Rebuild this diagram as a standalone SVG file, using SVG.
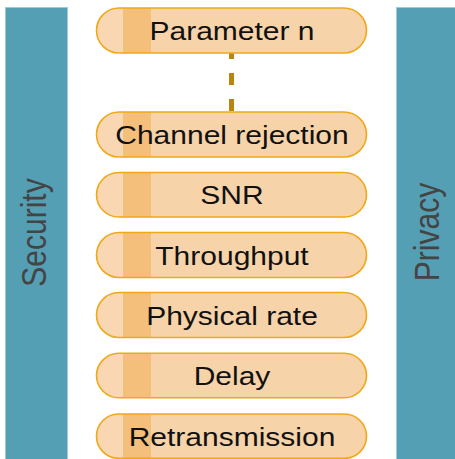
<svg xmlns="http://www.w3.org/2000/svg" width="455" height="459" viewBox="0 0 455 459">
  <defs>
    <linearGradient id="pillFill" gradientUnits="userSpaceOnUse" x1="96" y1="0" x2="367" y2="0">
      <stop offset="0" stop-color="#f8d7b2"/>
      <stop offset="0.0996" stop-color="#f8d7b2"/>
      <stop offset="0.0996" stop-color="#f3bf7b"/>
      <stop offset="0.203" stop-color="#f3bf7b"/>
      <stop offset="0.203" stop-color="#f7d3a9"/>
      <stop offset="1" stop-color="#f7d3a9"/>
    </linearGradient>
  </defs>
  <style>
    .bar { fill: #549fb4; stroke: #9ccbd8; stroke-width: 1; }
    .barText { font-family: "Liberation Sans", Arial, sans-serif; font-size: 30px; fill: #444444; text-anchor: middle; }
    .pill { fill: url(#pillFill); stroke: #f0a818; stroke-width: 1.6; }
    .label { font-family: "Liberation Sans", Arial, sans-serif; font-size: 25px; fill: #111111; text-anchor: middle; }
    .dash { stroke: #b8860b; stroke-width: 5; stroke-dasharray: 12 14; fill: none; }
  </style>
  <rect width="455" height="459" fill="#ffffff"/>

  <g id="security">
    <rect class="bar" x="5.5" y="7.5" width="62" height="452"/>
    <text class="barText" transform="translate(46,232.5) scale(1.17,1) rotate(-90)">Security</text>
  </g>
  <g id="privacy">
    <rect class="bar" x="396.5" y="7.5" width="59" height="452"/>
    <text class="barText" transform="translate(439,232) scale(1.17,1) rotate(-90)">Privacy</text>
  </g>

  <g id="connectors">
    <line class="dash" x1="231.5" y1="47" x2="231.5" y2="112"/>
  </g>

  <g id="param-n">
    <rect class="pill" x="96.5" y="8" width="270" height="45" rx="22.5"/>
    <text class="label" transform="translate(232,40) scale(1.2,1)">Parameter n</text>
  </g>
  <g id="channel-rejection">
    <rect class="pill" x="96.5" y="112" width="270" height="45" rx="22.5"/>
    <text class="label" transform="translate(232,144) scale(1.2,1)">Channel rejection</text>
  </g>
  <g id="snr">
    <rect class="pill" x="96.5" y="172.5" width="270" height="44.5" rx="22.25"/>
    <text class="label" transform="translate(232,204.3) scale(1.2,1)">SNR</text>
  </g>
  <g id="throughput">
    <rect class="pill" x="96.5" y="232.5" width="270" height="45" rx="22.5"/>
    <text class="label" transform="translate(232,264.5) scale(1.2,1)">Throughput</text>
  </g>
  <g id="physical-rate">
    <rect class="pill" x="96.5" y="292.5" width="270" height="45" rx="22.5"/>
    <text class="label" transform="translate(232,324.5) scale(1.2,1)">Physical rate</text>
  </g>
  <g id="delay">
    <rect class="pill" x="96.5" y="353.3" width="270" height="44.5" rx="22.25"/>
    <text class="label" transform="translate(232,385) scale(1.2,1)">Delay</text>
  </g>
  <g id="retransmission">
    <rect class="pill" x="96.5" y="414" width="270" height="44.3" rx="22.15"/>
    <text class="label" transform="translate(232,445.7) scale(1.2,1)">Retransmission</text>
  </g>
</svg>
